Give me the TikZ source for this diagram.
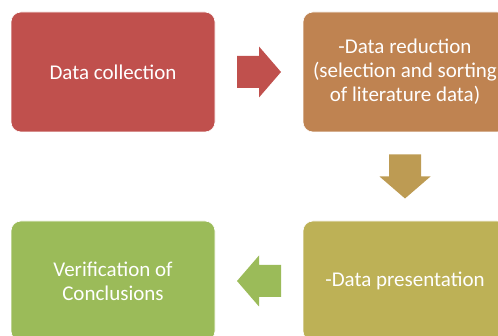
\documentclass[tikz,border=0pt]{standalone}
\usepackage{fontspec}
\setmainfont{Carlito}
\usetikzlibrary{calc}
\definecolor{boxred}{HTML}{C0504D}
\definecolor{boxbrown}{HTML}{BF8351}
\definecolor{arrowbrown}{HTML}{BD9B53}
\definecolor{boxolive}{HTML}{BDB156}
\definecolor{boxgreen}{HTML}{9BBB59}
\begin{document}
\begin{tikzpicture}[x=1pt,y=-1pt,
        box/.style={rounded corners=10pt,draw=white,line width=0.6pt,minimum width=204pt,minimum height=120pt,inner sep=0pt,align=center,text=white,font=\fontsize{21}{24}\selectfont},
        blockarrow/.pic={\path[pic actions](-22,-16)--(0,-16)--(0,-25.5)--(22,0)--(0,25.5)--(0,16)--(-22,16)--cycle;}]
        \useasboundingbox(0,0)rectangle(498,336);
        % the four steps
        \node[box,fill=boxred](collect)at(113,72){Data collection};
        \node[box,fill=boxbrown](reduce)at(405,72){-Data reduction\\(selection and sorting\\of literature data)};
        \node[box,fill=boxolive](present)at(405,281){-Data presentation};
        \node[box,fill=boxgreen](verify)at(113,281){Verification of\\Conclusions};
        % block arrows between them
        \coordinate(right)at($(collect.east)!0.5!(reduce.west)$);
        \coordinate(down)at($(reduce.south)!0.5!(present.north)$);
        \coordinate(left)at($(present.west)!0.5!(verify.east)$);
        \pic[fill=boxred]at(right){blockarrow};
        \pic[fill=arrowbrown,rotate=-90]at(down){blockarrow};
        \pic[fill=boxgreen,rotate=180]at(left){blockarrow};
    \end{tikzpicture}
\end{document}
